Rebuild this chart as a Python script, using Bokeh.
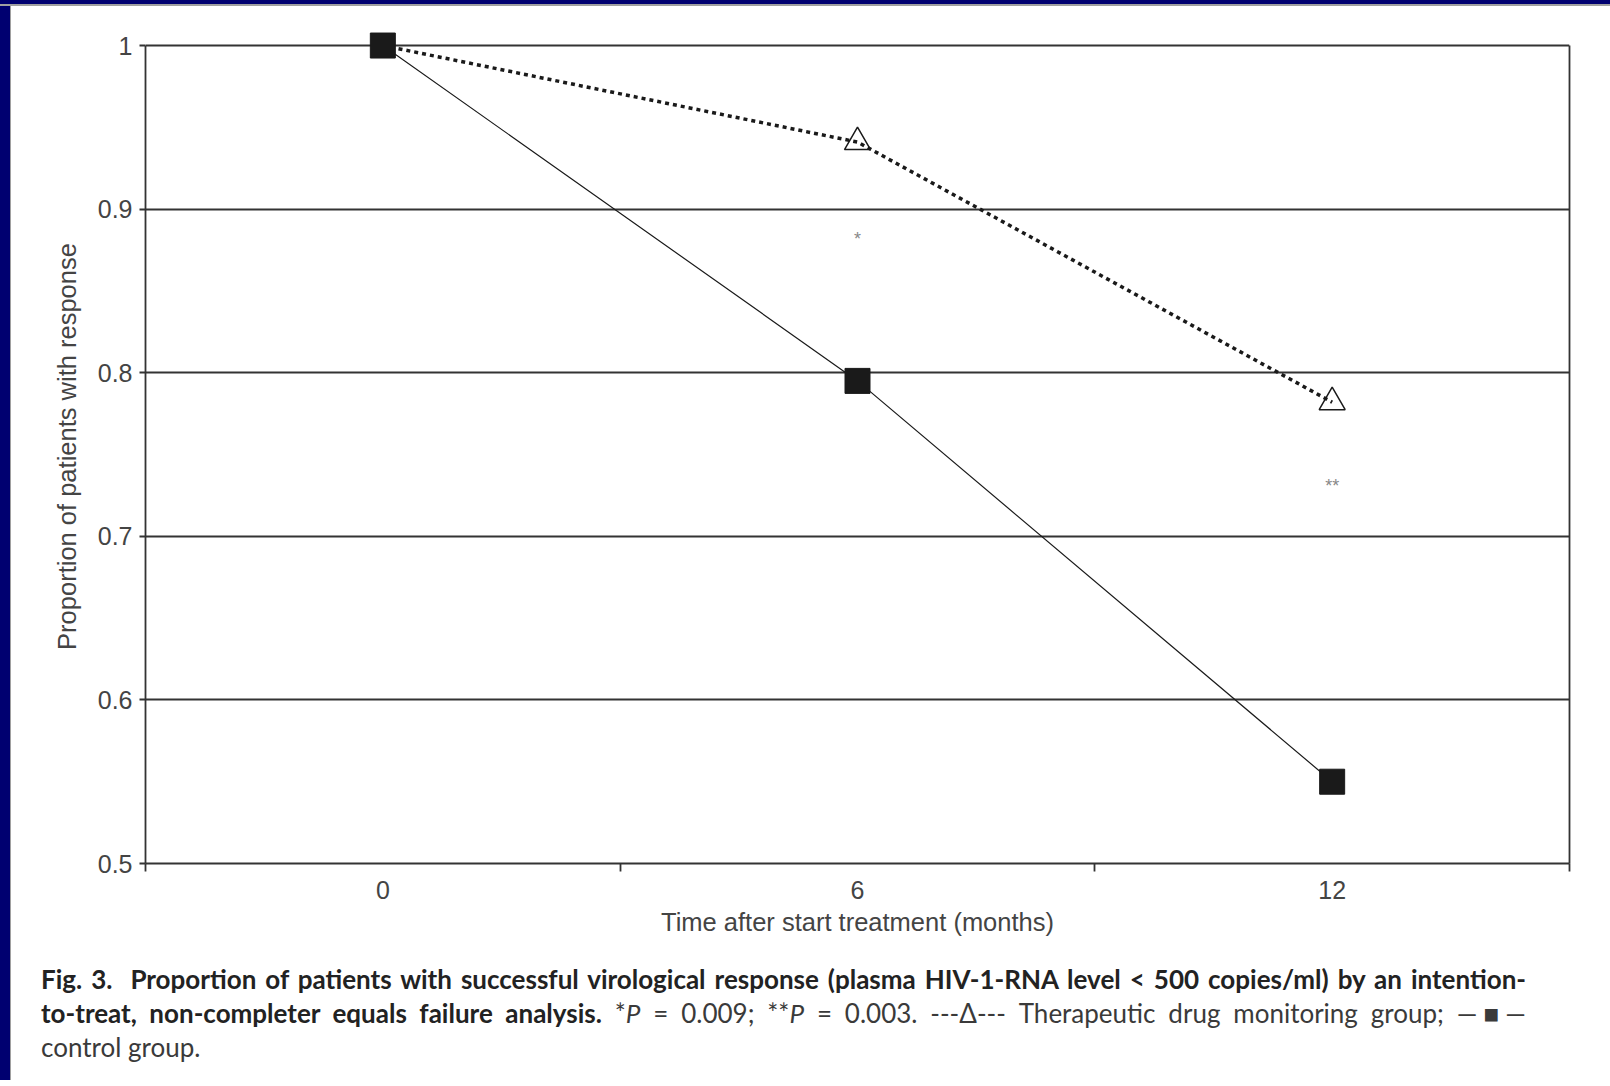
from bokeh.plotting import figure
from bokeh.models import Range1d, FixedTicker, LinearAxis, Div
from bokeh.layouts import row, column
from bokeh.core.properties import value
from bokeh.embed import file_html
from bokeh.resources import INLINE

# ---- data ----
months = [0, 6, 12]
tdm = [1.0, 0.941, 0.782]          # therapeutic drug monitoring group (triangles, dotted)
control = [1.0, 0.795, 0.55]       # control group (squares, solid)
sig_x = [6, 12]
sig_y = [0.882, 0.7305]
sig_text = ["*", "**"]
y_ticks = [0.5, 0.6, 0.7, 0.8, 0.9, 1.0]
y_tick_labels = ["0.5", "0.6", "0.7", "0.8", "0.9", "1"]
x_bounds = [-3, 3, 9, 15]          # category boundaries (tick marks)

AX = "#333333"
TXT = "#444444"
FONT = "Liberation Sans"
NAVY = "#000070"

p = figure(width=1599, height=934, output_backend="svg", toolbar_location=None,
           x_range=Range1d(-3, 15), y_range=Range1d(0.5, 1.0098),
           x_axis_location="below",
           min_border_left=134, min_border_right=41, min_border_top=23, min_border_bottom=77)
p.background_fill_color = "white"
p.border_fill_color = "white"
p.outline_line_color = None

# y axis
ya = p.yaxis[0]
ya.bounds = (0.5, 1.0)
ya.ticker = FixedTicker(ticks=y_ticks)
ya.major_label_overrides = dict(zip(y_ticks, y_tick_labels))
ya.major_tick_out = 6
ya.major_tick_in = 0
ya.minor_tick_line_color = None
ya.axis_line_color = AX
ya.axis_line_width = 1.8
ya.major_tick_line_color = AX
ya.major_tick_line_width = 1.8
ya.major_label_text_font = FONT
ya.major_label_text_font_size = "25px"
ya.major_label_text_color = TXT
ya.major_label_standoff = 7
ya.axis_label = "Proportion of patients with response"
ya.axis_label_text_font = FONT
ya.axis_label_text_font_size = "25.5px"
ya.axis_label_text_font_style = "normal"
ya.axis_label_text_color = TXT
ya.axis_label_standoff = 14

# right border line of the plot area
ra = LinearAxis(bounds=(0.5, 1.0), ticker=FixedTicker(ticks=[]), axis_line_color=AX,
                axis_line_width=1.8, major_tick_line_color=None, minor_tick_line_color=None,
                major_label_text_font_size="0px")
p.add_layout(ra, "right")

p.xgrid.visible = False
p.ygrid.ticker = FixedTicker(ticks=y_ticks)
p.ygrid.grid_line_color = AX
p.ygrid.grid_line_width = 1.8

# x axis: labels at category centres, tick marks at category boundaries
xa = p.xaxis[0]
xa.ticker = FixedTicker(ticks=months, minor_ticks=x_bounds)
xa.major_tick_line_color = None
xa.major_tick_out = 0
xa.major_tick_in = 0
xa.minor_tick_out = 8
xa.minor_tick_in = 0
xa.minor_tick_line_color = AX
xa.minor_tick_line_width = 1.8
xa.axis_line_color = AX
xa.axis_line_width = 1.8
xa.major_label_standoff = 9
xa.major_label_text_font = FONT
xa.major_label_text_font_size = "25px"
xa.major_label_text_color = TXT
xa.axis_label = "Time after start treatment (months)"
xa.axis_label_text_font = FONT
xa.axis_label_text_font_size = "25.5px"
xa.axis_label_text_font_style = "normal"
xa.axis_label_text_color = TXT
xa.axis_label_standoff = 6

# series
p.scatter(months[1:], tdm[1:], marker="triangle", size=26, fill_color="white",
          line_color="#1a1a1a", line_width=1.5)
p.line(months, tdm, line_color="#1a1a1a", line_width=3.5, line_dash="4 4")
p.line(months, control, line_color="#1a1a1a", line_width=1.2)
p.scatter(months, control, marker="square", size=25, fill_color="#1a1a1a",
          line_color="#1a1a1a")
p.text(sig_x, sig_y, text=sig_text, text_align="center", text_baseline="middle",
       text_color="#888888", text_font_size="18px", text_font=value(FONT))

# caption
J = "text-align:justify;text-align-last:justify;white-space:nowrap;"
N = "color:#3a3a3a;"
caption_html = (
    '<div style="font-family:Lato,sans-serif;font-size:26px;line-height:34px;color:#222222;'
    'padding:22px 27px 0 30px;width:1542px;">'
    f'<div style="{J}font-weight:bold;">Fig.&nbsp;3.&nbsp; Proportion of patients with successful '
    'virological response (plasma HIV-1-RNA level &lt; 500 copies/ml) by an intention-</div>'
    f'<div style="{J}"><b>to-treat, non-completer equals failure analysis.</b> '
    f'<span style="{N}">*<i>P</i>&nbsp;=&nbsp;0.009; **<i>P</i>&nbsp;=&nbsp;0.003. '
    '---\u0394--- Therapeutic drug monitoring group; \u2014\u25a0\u2014</span></div>'
    f'<div style="{N}">control group.</div>'
    '</div>'
)
caption = Div(text=caption_html, width=1599, height=140, margin=(0, 0, 0, 0))

# navy slide border (top and left)
top_strip = Div(text="", width=1610, height=6, margin=(0, 0, 0, 0),
                styles={"background-color": NAVY, "border-bottom": "2px solid #a0a0a0",
                        "box-sizing": "border-box"})
left_strip = Div(text="", width=11, height=1074, margin=(0, 0, 0, 0),
                 styles={"background-color": NAVY, "border-right": "1px solid #a0a0a0",
                         "box-sizing": "border-box"})

layout = column(top_strip, row(left_strip, column(p, caption, spacing=0), spacing=0), spacing=0)

open("out.html", "w").write(file_html(layout, INLINE))
